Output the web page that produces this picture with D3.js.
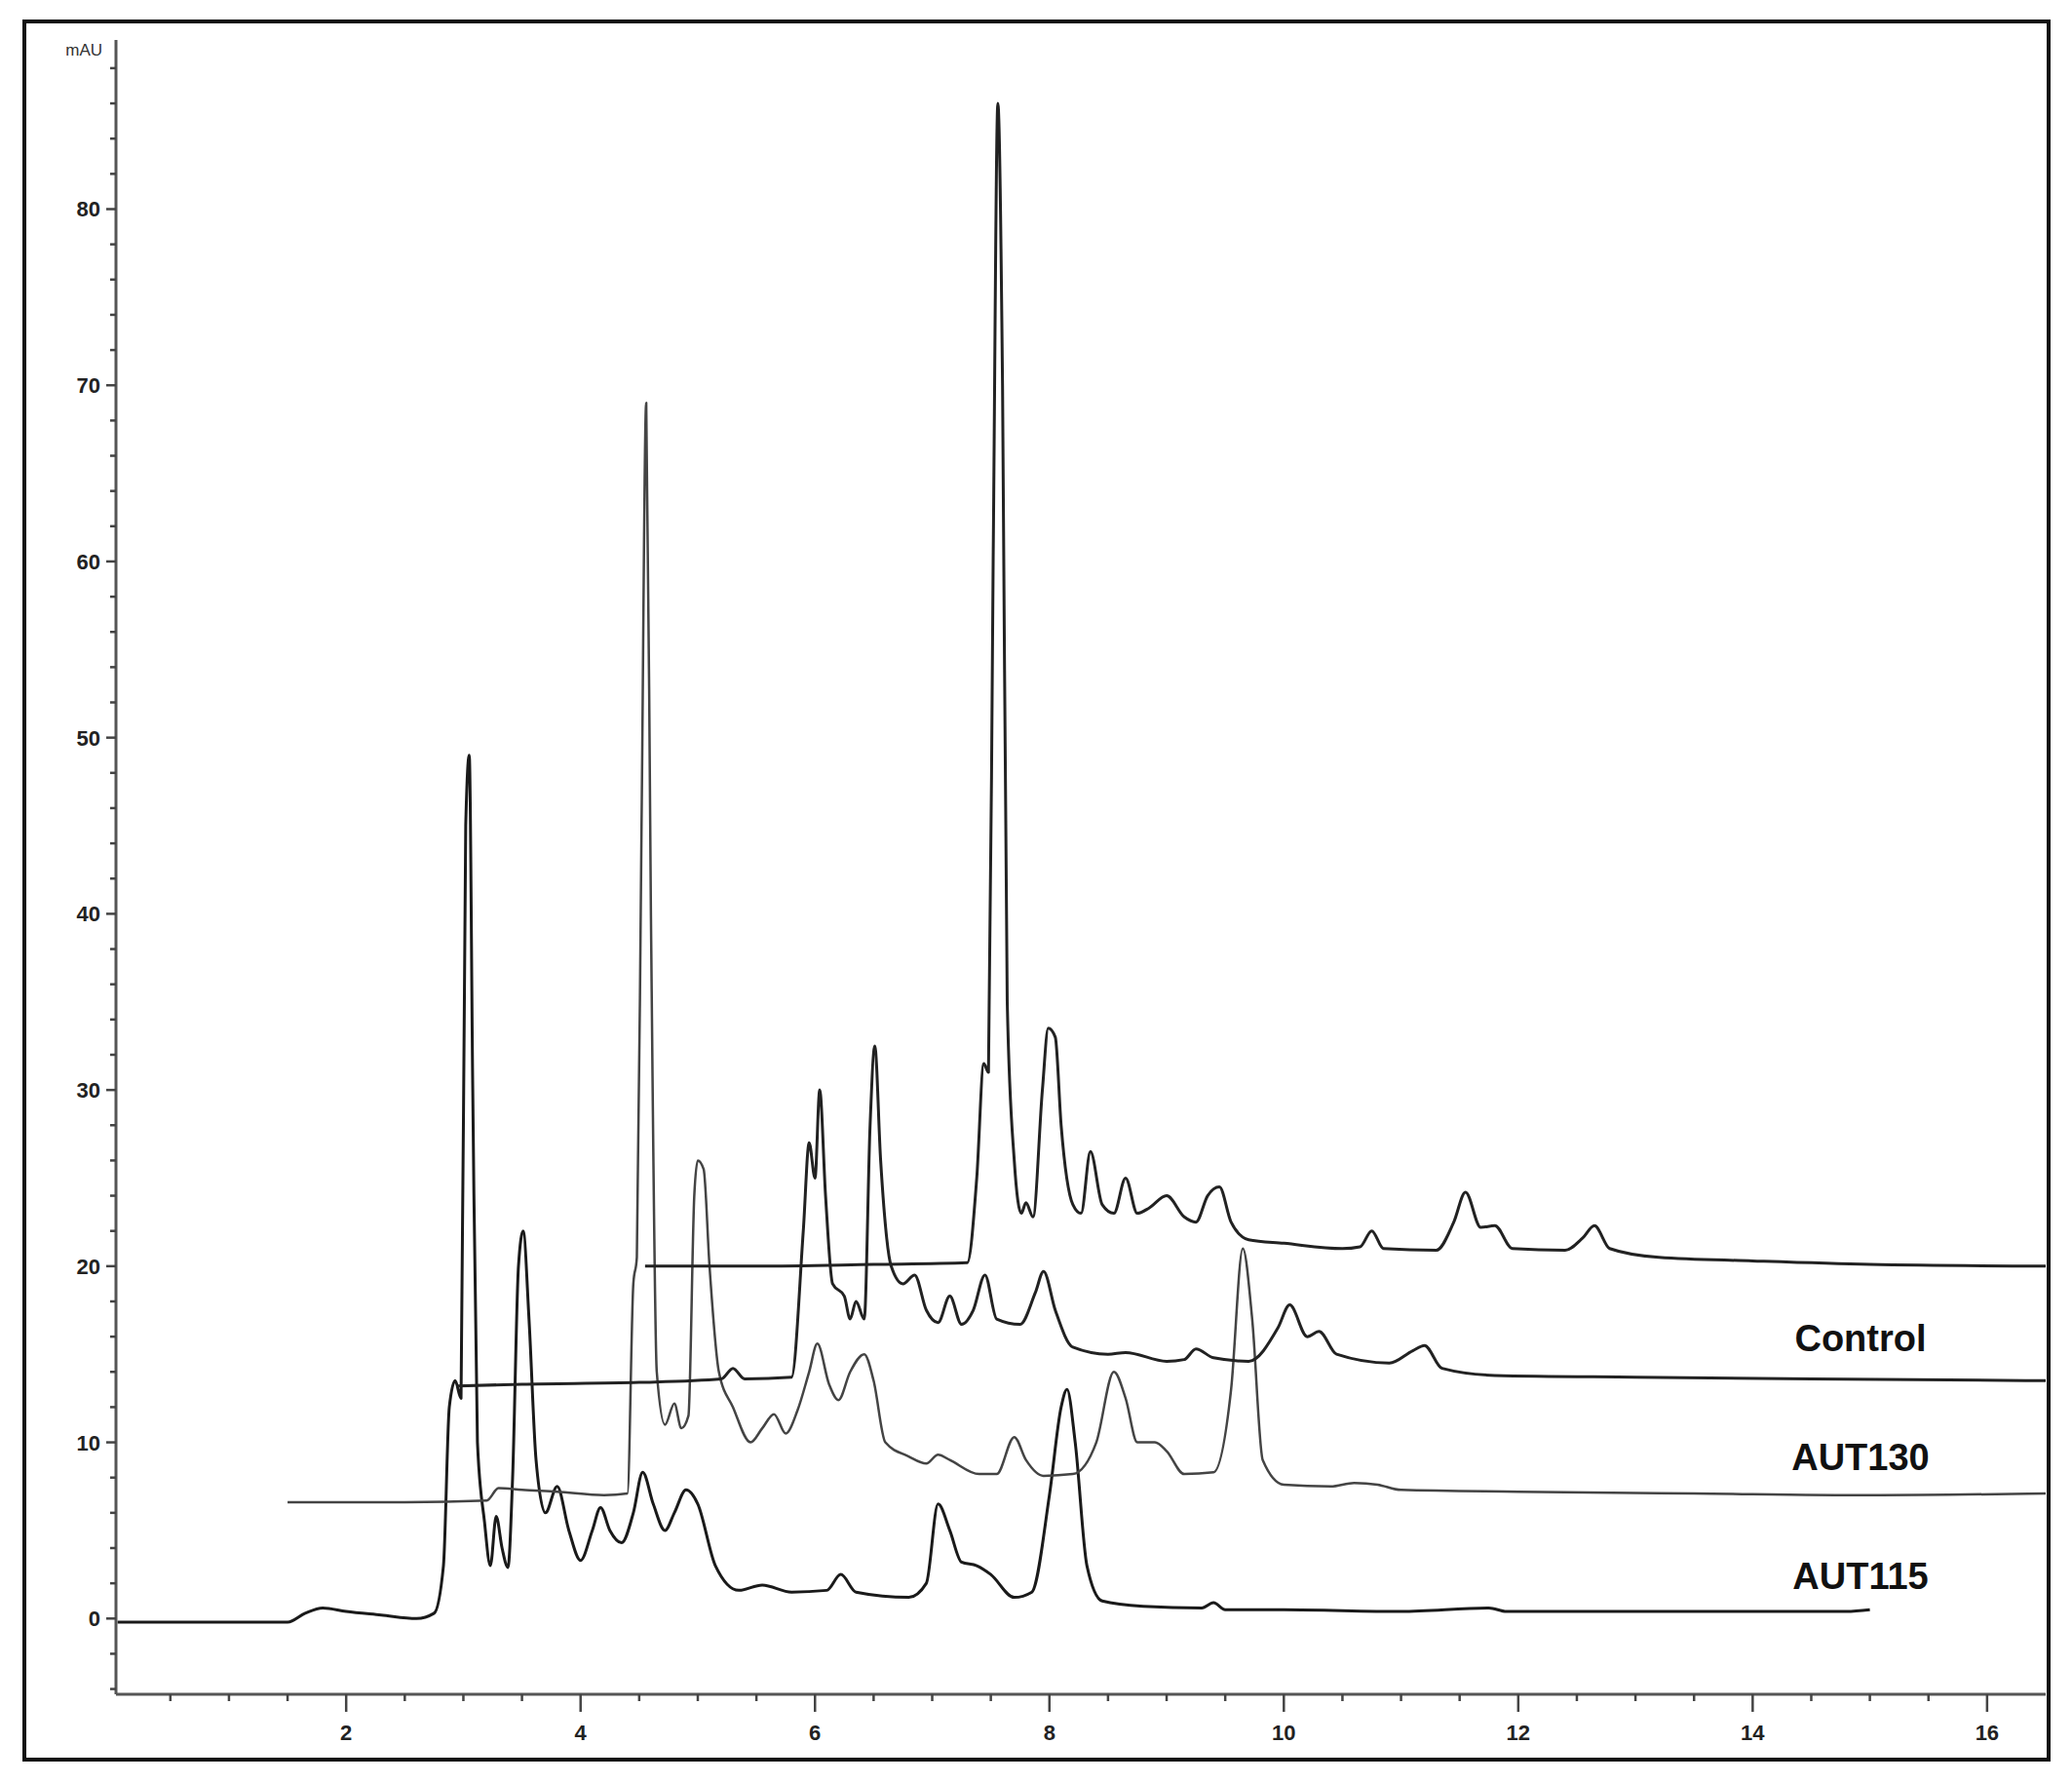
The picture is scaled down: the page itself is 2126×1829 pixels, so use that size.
<!DOCTYPE html>
<html><head><meta charset="utf-8">
<script src="https://cdn.jsdelivr.net/npm/d3@7"></script>
<style>body{margin:0;background:#fff}</style></head>
<body><svg id="c" width="2126" height="1829"></svg>
<script>
// Trace data: [retention time (min), absorbance (mAU)]
const traceTop = [[4.55,20],[5.5,20],[6.5,20.1],[7.3,20.2],[7.38,25],[7.44,31.5],[7.48,31],[7.52,60],[7.56,86],[7.6,70],[7.64,35],[7.7,26],[7.76,23],[7.8,23.6],[7.86,22.8],[7.94,30],[7.99,33.5],[8.05,33],[8.1,28],[8.2,23.5],[8.27,23],[8.35,26.5],[8.45,23.5],[8.55,23],[8.65,25],[8.75,23],[8.85,23.3],[9.0,24],[9.15,22.8],[9.25,22.5],[9.35,24],[9.45,24.5],[9.55,22.5],[9.7,21.5],[10.0,21.3],[10.5,21],[10.65,21.1],[10.75,22],[10.85,21],[11.3,20.9],[11.45,22.5],[11.55,24.2],[11.68,22.2],[11.8,22.3],[11.95,21],[12.4,20.9],[12.55,21.6],[12.65,22.3],[12.78,21],[13.2,20.5],[14,20.3],[15,20.1],[16.5,20]];
const traceControl = [[2.95,13.2],[3.5,13.3],[4.5,13.4],[5.2,13.6],[5.3,14.2],[5.4,13.6],[5.8,13.7],[5.9,22],[5.95,27],[6.0,25],[6.04,30],[6.09,24],[6.15,19],[6.25,18.3],[6.3,17],[6.35,18],[6.42,17],[6.47,28],[6.51,32.5],[6.56,26],[6.65,20],[6.75,19],[6.85,19.5],[6.95,17.5],[7.05,16.8],[7.15,18.3],[7.25,16.7],[7.35,17.5],[7.45,19.5],[7.55,17],[7.75,16.7],[7.88,18.5],[7.95,19.7],[8.05,17.5],[8.2,15.4],[8.5,15],[8.65,15.1],[9.0,14.6],[9.15,14.7],[9.25,15.3],[9.4,14.8],[9.7,14.6],[9.95,16.5],[10.05,17.8],[10.2,16],[10.3,16.3],[10.45,15],[10.9,14.5],[11.1,15.2],[11.2,15.5],[11.35,14.2],[11.8,13.8],[13,13.7],[14.5,13.6],[16.5,13.5]];
const traceAUT130 = [[1.5,6.6],[2.5,6.6],[3.2,6.7],[3.3,7.4],[3.5,7.3],[3.8,7.2],[4.2,7.0],[4.4,7.1],[4.45,19],[4.48,20.5],[4.52,45],[4.56,69],[4.6,40],[4.65,14],[4.72,11],[4.8,12.2],[4.86,10.8],[4.92,11.5],[4.97,24],[5.0,26],[5.05,25.5],[5.1,20],[5.18,14],[5.3,12],[5.45,10],[5.55,10.8],[5.65,11.6],[5.75,10.5],[5.85,11.8],[5.95,14],[6.02,15.6],[6.12,13.3],[6.2,12.4],[6.3,14],[6.42,15],[6.5,13.5],[6.6,10],[6.8,9.2],[6.95,8.8],[7.05,9.3],[7.15,9],[7.4,8.2],[7.55,8.2],[7.7,10.3],[7.8,9],[7.95,8.1],[8.2,8.2],[8.4,10],[8.55,14],[8.65,12.5],[8.75,10],[8.9,10],[9.0,9.5],[9.15,8.2],[9.4,8.3],[9.55,13],[9.65,21],[9.73,17],[9.82,9],[10.0,7.6],[10.4,7.5],[10.6,7.7],[10.8,7.6],[11.0,7.3],[12,7.2],[13.5,7.1],[15,7.0],[16.5,7.1]];
const traceAUT115 = [[0.05,-0.2],[1.5,-0.2],[1.65,0.3],[1.8,0.6],[2.0,0.4],[2.3,0.2],[2.6,0.0],[2.75,0.3],[2.83,3],[2.88,12],[2.93,13.5],[2.98,12.5],[3.02,45],[3.05,49],[3.08,30],[3.12,10],[3.18,5.5],[3.23,3],[3.28,5.8],[3.33,4],[3.38,2.9],[3.42,8],[3.47,20],[3.51,22],[3.56,17],[3.62,9],[3.7,6],[3.8,7.5],[3.9,5],[4.0,3.3],[4.1,5],[4.17,6.3],[4.25,5],[4.35,4.3],[4.45,6],[4.53,8.3],[4.62,6.5],[4.72,5],[4.8,6],[4.9,7.3],[5.0,6.5],[5.15,3],[5.35,1.6],[5.55,1.9],[5.8,1.5],[6.1,1.6],[6.22,2.5],[6.35,1.5],[6.8,1.2],[6.95,2],[7.05,6.5],[7.15,5],[7.25,3.2],[7.38,3.0],[7.5,2.5],[7.7,1.2],[7.85,1.5],[8.0,7],[8.1,12],[8.15,13],[8.22,10],[8.32,3],[8.45,1],[8.8,0.7],[9.3,0.6],[9.4,0.9],[9.5,0.5],[10,0.5],[11,0.4],[11.75,0.6],[11.9,0.4],[13,0.4],[14.8,0.4],[15.0,0.5]];
const xTicks = [2,4,6,8,10,12,14,16];
const yTicks = [0,10,20,30,40,50,60,70,80];
const labels = [["Control",15.2],["AUT130",8.4],["AUT115",1.65]];

const svg = d3.select("#c");
const L=119, R=2099, T=41, B=1738;
const x = d3.scaleLinear().domain([0.036,16.5]).range([L,R]);
const y = d3.scaleLinear().domain([-4.3,89.6]).range([B,T]);

svg.append("rect").attr("x",25).attr("y",22).attr("width",2077).attr("height",1783)
  .attr("fill","none").attr("stroke","#111").attr("stroke-width",4);

const fam = "Liberation Sans, Arial, sans-serif";
svg.append("line").attr("x1",L).attr("x2",L).attr("y1",T).attr("y2",B).attr("stroke","#555").attr("stroke-width",3);
svg.append("line").attr("x1",L).attr("x2",R).attr("y1",B).attr("y2",B).attr("stroke","#555").attr("stroke-width",3);
const yMinor = d3.range(-4,90,2);
svg.selectAll(".ym").data(yMinor).join("line").attr("x1",d=>d%10===0?L-10:L-6).attr("x2",L)
  .attr("y1",d=>y(d)).attr("y2",d=>y(d)).attr("stroke","#444").attr("stroke-width",2.5);
svg.selectAll(".yl").data(yTicks).join("text").attr("x",L-16).attr("y",d=>y(d)+8).attr("text-anchor","end")
  .attr("font-family",fam).attr("font-weight","bold").attr("font-size",22).attr("fill","#222").text(d=>d);
svg.append("text").attr("x",L-14).attr("y",T+16).attr("text-anchor","end").attr("font-family",fam)
  .attr("font-size",17).attr("fill","#333").text("mAU");
const xMinor = d3.range(0.5,16.5,0.5);
svg.selectAll(".xm").data(xMinor).join("line").attr("x1",d=>x(d)).attr("x2",d=>x(d))
  .attr("y1",B).attr("y2",d=>d%2===0?B+18:B+7).attr("stroke","#444").attr("stroke-width",2.5);
svg.selectAll(".xl").data(xTicks).join("text").attr("x",d=>x(d)).attr("y",B+47).attr("text-anchor","middle")
  .attr("font-family",fam).attr("font-weight","bold").attr("font-size",22).attr("fill","#222").text(d=>d);

const line = d3.line().x(d=>x(d[0])).y(d=>y(d[1])).curve(d3.curveMonotoneX);
[[traceAUT115,"#1a1a1a",3],[traceAUT130,"#444",2.5],[traceControl,"#222",3],[traceTop,"#222",3]].forEach(([d,c,w])=>{
  svg.append("path").datum(d).attr("d",line).attr("fill","none").attr("stroke",c).attr("stroke-width",w).attr("stroke-linejoin","round");
});
svg.selectAll(".lab").data(labels).join("text").attr("x",x(14.92)).attr("y",d=>y(d[1])).attr("text-anchor","middle")
  .attr("font-family",fam).attr("font-weight","bold").attr("font-size",38).attr("fill","#111").text(d=>d[0]);
</script></body></html>
